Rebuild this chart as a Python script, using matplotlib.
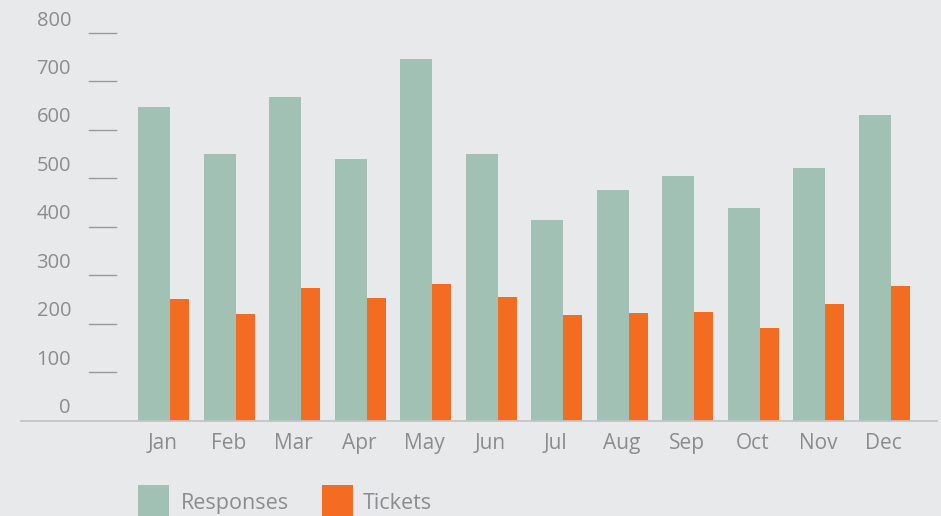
import matplotlib
matplotlib.use("Agg")
import matplotlib.pyplot as plt
from matplotlib.patches import Rectangle
import numpy as np

months = ["Jan", "Feb", "Mar", "Apr", "May", "Jun", "Jul", "Aug", "Sep", "Oct", "Nov", "Dec"]
responses = [647, 550, 667, 539, 746, 550, 413, 475, 504, 438, 521, 630]
tickets = [250, 219, 273, 252, 281, 254, 217, 221, 225, 192, 240, 277]
y_ticks = [0, 100, 200, 300, 400, 500, 600, 700, 800]
series_names = ["Responses", "Tickets"]

BG = "#e8e9eb"
GREEN = "#a1c1b5"
ORANGE = "#f36c21"
TXT = "#8c8c8c"
LINE = "#9a9a9a"

plt.rcParams["font.family"] = ["Open Sans", "DejaVu Sans"]

W, H = 941, 516
fig = plt.figure(figsize=(W / 100, H / 100), dpi=100, facecolor=BG)
ax_left, ax_right = 21, 937
y0_px, y800_px = 420.5, 33
ax = fig.add_axes([ax_left / W, (H - y0_px) / H, (ax_right - ax_left) / W, (y0_px - y800_px) / H])
ax.set_facecolor(BG)

step = 65.5
grp_center0 = 163.5
x = np.arange(len(months))
w_r = 32 / step
w_t = 19 / step
left_r = x - 25.5 / step
ax.bar(left_r, responses, width=w_r, align="edge", color=GREEN, linewidth=0)
ax.bar(left_r + w_r, tickets, width=w_t, align="edge", color=ORANGE, linewidth=0)

ax.set_xlim((ax_left - grp_center0) / step, (ax_right - grp_center0) / step)
ax.set_ylim(0, 800)

for s in ["top", "right", "left"]:
    ax.spines[s].set_visible(False)
ax.spines["bottom"].set_color("#c4c4c4")
ax.spines["bottom"].set_linewidth(1.3)
ax.set_xticks([])
ax.set_yticks([])

ytr = ax.get_yaxis_transform()
axw = ax_right - ax_left
for v in y_ticks:
    if v > 0:
        ax.plot([(89 - ax_left) / axw, (116 - ax_left) / axw], [v, v], transform=ytr,
                color=LINE, lw=1.0, clip_on=False)
    ax.annotate(str(v), xy=((71 - ax_left) / axw, v), xycoords=ytr,
                xytext=(0, 5.4), textcoords="offset points",
                ha="right", va="baseline", fontsize=14.5, color=TXT)

xtr = ax.get_xaxis_transform()
for i, m in enumerate(months):
    ax.text(x[i] - 0.01, -(449 - y0_px) / (y0_px - y800_px), m, transform=xtr,
            ha="center", va="baseline", fontsize=15, color=TXT)

# legend
colors = [GREEN, ORANGE]
sq_x = [138, 322]
txt_x = [181, 363]
for name, c, sx, tx in zip(series_names, colors, sq_x, txt_x):
    fig.add_artist(Rectangle((sx / W, 0), 31 / W, (H - 485) / H, transform=fig.transFigure,
                             facecolor=c, edgecolor="none"))
    fig.text(tx / W, (H - 509) / H, name, ha="left", va="baseline", fontsize=15.5, color=TXT)

fig.savefig("out.png", dpi=100, facecolor=BG)
